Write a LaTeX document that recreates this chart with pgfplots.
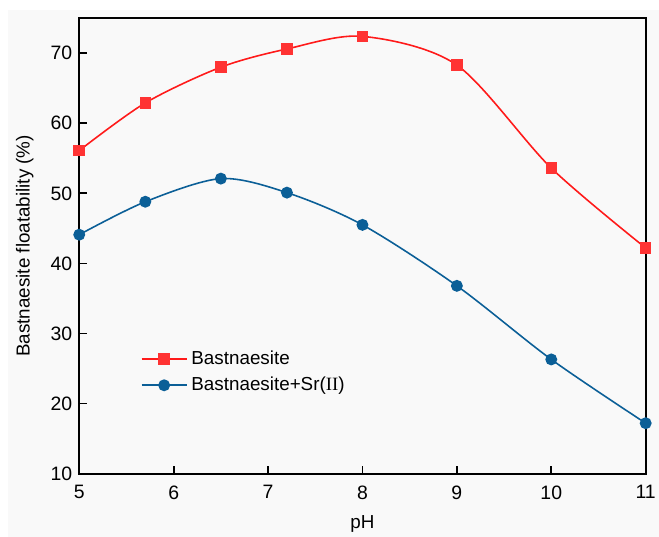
\documentclass[border=0pt]{standalone}
\usepackage{fontspec}
\setmainfont{Liberation Sans}
\newfontfamily\romanfont{Liberation Serif}
\usepackage{pgfplots}
\pgfplotsset{compat=1.18}
\usetikzlibrary{backgrounds}

\definecolor{redline}{HTML}{FF1A1A}
\definecolor{redmark}{HTML}{FF3333}
\definecolor{blueline}{HTML}{0B5F97}
\definecolor{bggray}{HTML}{F9F9F9}

\begin{document}
\begin{tikzpicture}
\begin{axis}[
  scale only axis,
  width=286pt, height=230pt,
  xmin=5, xmax=11, ymin=10, ymax=75,
  xtick={5,6,...,11}, ytick={10,20,...,70},
  tick pos=left, tick align=inside,
  major tick length=4pt,
  every tick/.style={black, line width=0.9pt},
  axis line style={line width=1pt},
  /pgf/number format/assume math mode=true,
  tick label style={font=\fontsize{9.8}{11}\selectfont},
  xticklabel style={yshift=-2.5pt},
  xlabel={pH},
  ylabel={Bastnaesite floatability (\%)},
  label style={font=\fontsize{9.5}{11}\selectfont},
  xlabel style={at={(axis description cs:0.5,-0.110)}, anchor=center},
  ylabel style={at={(axis description cs:-0.096,0.5)}, anchor=center},
  legend style={at={(axis description cs:0.108,0.28)}, anchor=north west,
    draw=none, fill=none, inner sep=0pt, row sep=1pt,
    font=\fontsize{9.5}{11}\selectfont},
  legend cell align=left,
  legend image code/.code={%
    \draw[mark repeat=2, mark phase=2, #1]
      plot coordinates {(0cm,0cm) (0.4cm,0cm) (0.8cm,0cm)};},
]
% background / page frame coordinates
\coordinate (bbl) at (rel axis cs:-0.1399,-0.1385);
\coordinate (btr) at (rel axis cs:1.0235,1.0398);
\coordinate (gbl) at (rel axis cs:-0.1259,-0.1385);
\coordinate (gtr) at (rel axis cs:1.0235,1.018);

\addplot[redline, line width=0.8pt, smooth, mark=square*, mark size=2.5pt,
  mark options={fill=redmark, draw=redmark, solid}] coordinates {
  (5,56.1) (5.7,62.9) (6.5,68.0) (7.2,70.6) (8,72.4) (9,68.3) (10,53.6) (11,42.2)
};
\addlegendentry{Bastnaesite}

\addplot[blueline, line width=0.8pt, smooth, mark=*, mark size=2.6pt,
  mark options={fill=blueline, draw=blueline, solid}] coordinates {
  (5,44.1) (5.7,48.8) (6.5,52.1) (7.2,50.1) (8,45.5) (9,36.8) (10,26.3) (11,17.2)
};
\addlegendentry{Bastnaesite+Sr({\romanfont II})}
\end{axis}
\begin{pgfonlayer}{background}
  \fill[bggray] (gbl) rectangle (gtr);
\end{pgfonlayer}
\pgfresetboundingbox
\useasboundingbox (bbl) rectangle (btr);
\end{tikzpicture}
\end{document}
